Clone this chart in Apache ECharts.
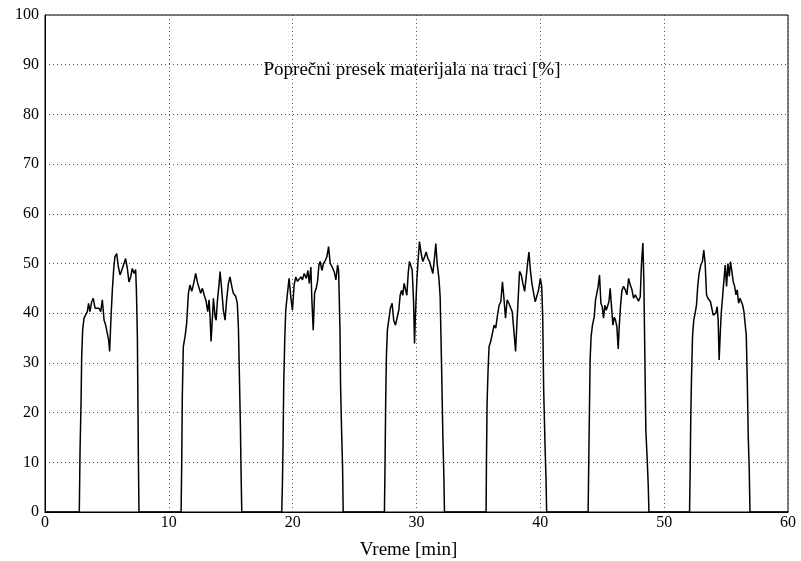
<!DOCTYPE html>
<html>
<head>
<meta charset="utf-8">
<script src="https://cdn.jsdelivr.net/npm/echarts@6/dist/echarts.min.js"></script>
<style>
  html, body { margin: 0; padding: 0; background: #fff; }
  #chart { width: 801px; height: 561px; }
</style>
</head>
<body>
<div id="chart"></div>
<script>
// [vreme (min), poprecni presek (%)] for each pass of material on the belt
const pulse1 = [[2.77,0],[2.83,12.5],[2.91,21.9],[2.96,30.9],[3.04,36.6],[3.15,39.0],[3.31,38.6],[3.42,40.3],[3.52,42.0],[3.63,40.3],[3.77,42.3],[3.90,43.0],[4.04,41.0],[4.17,40.8],[4.36,41.0],[4.50,40.3],[4.63,42.7],[4.77,38.6],[4.90,37.6],[5.06,37.3],[5.14,34.6],[5.22,32.3],[5.33,39.2],[5.44,44.7],[5.55,49.0],[5.65,51.4],[5.79,52.0],[5.92,49.4],[6.06,47.7],[6.22,48.8],[6.33,49.0],[6.51,51.0],[6.65,49.0],[6.78,46.3],[6.92,47.3],[7.05,49.0],[7.19,48.0],[7.32,48.8],[7.38,44.7],[7.46,35.3],[7.54,11.1],[7.59,0]];
const pulse2 = [[10.99,0],[11.04,9.8],[11.09,23.5],[11.17,33.3],[11.31,35.3],[11.44,38.0],[11.58,44.0],[11.71,45.7],[11.85,44.4],[11.98,45.7],[12.17,48.0],[12.30,46.3],[12.44,46.6],[12.57,44.0],[12.71,45.0],[12.85,43.7],[13.01,42.4],[13.14,40.3],[13.25,42.7],[13.33,39.2],[13.41,34.3],[13.52,39.2],[13.60,43.0],[13.74,39.2],[13.82,38.6],[13.92,42.4],[14.06,46.0],[14.14,48.4],[14.27,44.7],[14.40,40.6],[14.54,38.6],[14.67,42.7],[14.81,46.0],[14.94,47.3],[15.08,45.4],[15.21,44.0],[15.40,43.4],[15.53,42.0],[15.62,37.0],[15.70,27.2],[15.78,17.2],[15.83,8.5],[15.89,0]];
const pulse3 = [[19.12,0],[19.17,5.4],[19.22,13.1],[19.28,25.9],[19.36,34.6],[19.44,40.6],[19.58,44.0],[19.71,47.0],[19.85,43.3],[19.98,40.6],[20.12,45.7],[20.25,47.3],[20.39,46.4],[20.52,46.0],[20.66,47.3],[20.79,46.7],[20.93,48.0],[21.10,47.0],[21.23,48.6],[21.34,46.0],[21.47,49.3],[21.55,42.7],[21.66,36.6],[21.77,44.0],[21.90,45.0],[22.01,46.4],[22.12,49.7],[22.22,50.4],[22.36,48.6],[22.49,50.0],[22.63,50.6],[22.76,51.3],[22.90,53.4],[23.03,50.0],[23.19,49.3],[23.36,48.3],[23.49,46.7],[23.63,49.7],[23.71,48.6],[23.76,43.3],[23.82,36.6],[23.87,25.2],[23.95,16.5],[24.03,9.1],[24.08,0]];
const pulse4 = [[27.41,0],[27.46,9.8],[27.51,21.9],[27.57,31.3],[27.65,36.6],[27.76,38.6],[27.89,41.0],[28.03,42.0],[28.16,38.6],[28.30,37.6],[28.43,37.9],[28.57,40.6],[28.68,43.6],[28.79,44.6],[28.89,43.6],[29.00,46.0],[29.11,46.3],[29.22,43.6],[29.33,48.0],[29.43,50.4],[29.54,50.7],[29.65,48.7],[29.76,42.6],[29.84,33.9],[29.92,40.0],[30.03,46.7],[30.13,50.7],[30.24,54.4],[30.38,52.0],[30.51,50.4],[30.65,51.3],[30.78,52.3],[30.92,51.0],[31.05,50.4],[31.19,50.7],[31.32,48.0],[31.46,51.3],[31.56,54.0],[31.67,50.0],[31.81,47.0],[31.91,43.3],[32.02,29.9],[32.13,15.2],[32.21,7.1],[32.26,0]];
const pulse5 = [[35.62,0],[35.65,10.5],[35.70,21.9],[35.78,28.6],[35.86,33.3],[35.99,34.3],[36.13,34.6],[36.27,37.6],[36.40,37.0],[36.54,39.6],[36.67,41.6],[36.81,42.3],[36.94,46.3],[37.05,43.3],[37.19,39.0],[37.32,42.7],[37.46,42.0],[37.59,41.6],[37.73,40.3],[37.86,36.6],[38.00,32.3],[38.11,38.0],[38.22,43.3],[38.32,48.4],[38.46,47.7],[38.59,46.0],[38.73,44.4],[38.86,47.3],[39.00,50.7],[39.08,52.3],[39.19,48.8],[39.32,46.0],[39.46,44.0],[39.59,42.3],[39.73,42.0],[39.86,44.7],[40.00,47.0],[40.11,45.4],[40.19,39.6],[40.27,24.5],[40.38,13.3],[40.46,6.6],[40.51,0]];
const pulse6 = [[43.86,0],[43.91,10.1],[43.97,21.2],[44.02,30.6],[44.10,35.3],[44.21,37.6],[44.35,39.2],[44.46,42.7],[44.56,43.0],[44.67,45.4],[44.78,47.7],[44.89,42.0],[45.00,41.3],[45.10,39.0],[45.21,41.6],[45.32,40.6],[45.43,40.3],[45.54,42.3],[45.64,45.0],[45.75,41.3],[45.86,37.6],[45.97,39.2],[46.07,38.6],[46.18,37.3],[46.29,32.8],[46.37,37.3],[46.48,41.6],[46.59,44.6],[46.72,45.4],[46.86,44.7],[46.99,43.7],[47.13,47.0],[47.26,45.7],[47.40,44.7],[47.53,43.0],[47.67,43.7],[47.80,43.7],[47.93,42.4],[48.07,43.3],[48.17,50.0],[48.28,54.1],[48.36,46.6],[48.44,31.2],[48.52,16.5],[48.63,10.5],[48.71,5.7],[48.77,0]];
const pulse7 = [[52.05,0],[52.10,8.5],[52.15,19.2],[52.21,27.2],[52.29,35.3],[52.39,38.6],[52.50,40.0],[52.61,41.6],[52.71,45.4],[52.82,48.0],[52.96,49.7],[53.09,50.4],[53.20,52.7],[53.31,50.0],[53.42,43.7],[53.53,43.0],[53.64,43.4],[53.74,42.3],[53.85,42.0],[53.96,39.6],[54.07,39.2],[54.17,40.0],[54.28,41.3],[54.36,38.6],[54.44,30.6],[54.53,36.0],[54.61,40.0],[54.72,43.4],[54.83,46.7],[54.93,49.7],[55.04,45.4],[55.15,50.0],[55.26,47.4],[55.36,50.4],[55.47,50.7],[55.58,46.3],[55.69,45.4],[55.80,43.7],[55.90,44.7],[56.01,42.0],[56.12,43.0],[56.23,42.3],[56.34,41.6],[56.44,40.3],[56.55,40.0],[56.63,35.6],[56.71,26.6],[56.79,15.2],[56.87,8.5],[56.93,0]];

const xTicks = [0, 10, 20, 30, 40, 50, 60];
const yTicks = [0, 10, 20, 30, 40, 50, 60, 70, 80, 90, 100];
const chartTitle = "Poprečni presek materijala na traci [%]";
const xName = "Vreme [min]";

const series = [[0, 0]].concat(pulse1, pulse2, pulse3, pulse4, pulse5, pulse6, pulse7, [[60, 0]]);

const FONT = "Liberation Serif";
const chart = echarts.init(document.getElementById("chart"));

chart.setOption({
  animation: false,
  title: {
    text: chartTitle,
    left: 407,
    top: 56,
    textAlign: "center",
    textStyle: { fontFamily: FONT, fontSize: 19, fontWeight: "normal", color: "#000" },
  },
  grid: {
    left: 45, right: 13, top: 15, bottom: 49,
    outerBoundsMode: "none",
    show: true, borderColor: "#000", borderWidth: 1,
  },
  xAxis: {
    type: "value",
    min: xTicks[0], max: xTicks[xTicks.length - 1], interval: 10,
    name: xName, nameLocation: "middle", nameGap: 29,
    nameTextStyle: { fontFamily: FONT, fontSize: 19, color: "#000", padding: [0, 16, 0, 0] },
    axisLine: { lineStyle: { color: "#000" } },
    axisTick: { show: false },
    axisLabel: { fontFamily: FONT, fontSize: 16, color: "#000", margin: 3 },
    splitLine: { lineStyle: { type: [1, 3], color: "#555" } },
  },
  yAxis: {
    type: "value",
    min: yTicks[0], max: yTicks[yTicks.length - 1], interval: 10,
    axisLine: { show: true, lineStyle: { color: "#000" } },
    axisTick: { show: false },
    axisLabel: { fontFamily: FONT, fontSize: 16, color: "#000", margin: 6 },
    splitLine: { lineStyle: { type: [1, 3], color: "#555" } },
  },
  series: [{
    type: "line",
    data: series,
    symbol: "none",
    lineStyle: { color: "#000", width: 1.5 },
  }],
});
</script>
</body>
</html>
